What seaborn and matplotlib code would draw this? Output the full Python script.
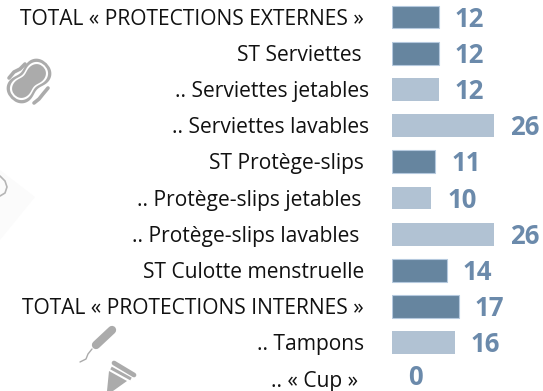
import numpy as np
import matplotlib
matplotlib.use("Agg")
import matplotlib.pyplot as plt
from matplotlib.transforms import ScaledTranslation
from matplotlib.patches import Polygon
import pandas as pd
import seaborn as sns

labels = ["TOTAL « PROTECTIONS EXTERNES »", "ST Serviettes", ".. Serviettes jetables",
          ".. Serviettes lavables", "ST Protège-slips", ".. Protège-slips jetables",
          ".. Protège-slips lavables", "ST Culotte menstruelle",
          "TOTAL « PROTECTIONS INTERNES »", ".. Tampons", ".. « Cup »"]
values = [12, 12, 12, 26, 11, 10, 26, 14, 17, 16, 0]
levels = ["total", "total", "detail", "detail", "total", "detail", "detail",
          "total", "total", "detail", "detail"]
label_shift_px = [-28, -30, -23, -23, -28, -31, -33, -28, -28, -28, -34]

DARK, LIGHT, TEXT = "#66859F", "#B1C2D3", "#6B8AAB"

sns.set_theme(style="white")
plt.rcParams["font.family"] = ["Open Sans", "DejaVu Sans"]
fig = plt.figure(figsize=(5.43, 3.91), dpi=100)
W, H = 543, 391
ax = fig.add_axes([392 / W, 0, 1 - 392 / W, 1])
df = pd.DataFrame({"label": labels, "value": values, "level": levels})
sns.barplot(data=df, y="label", x="value", hue="level", dodge=False, legend=False,
            palette={"total": DARK, "detail": LIGHT}, width=0.627, saturation=1, ax=ax)
for c, lev in zip(ax.containers, pd.unique(df["level"])):
    for r in c:
        r.set_linewidth(0.8 if lev == "total" else 0)
        r.set_edgecolor("#B5C9DE")
    for txt in ax.bar_label(c, padding=12, color=TEXT, fontsize=18.5, fontweight="bold"):
        x0, y0 = txt.xyann
        # the last row sits against the bottom edge, so it stays fully inside
        txt.xyann = (x0 - 0.5, y0 - (1.5 if txt.get_text() != "0" else -1.0))
ax.set_xlim(0, 151 / 3.92)
ax.set_ylim(10.33, -0.47)
ax.set_xlabel(""); ax.set_ylabel("")
ax.set_xticks([])
sns.despine(ax=ax, left=True, bottom=True)
ax.tick_params(axis="y", length=0, pad=0, labelsize=15.1, labelcolor="#111111")
for t, s in zip(ax.get_yticklabels(), label_shift_px):
    t.set_transform(t.get_transform() + ScaledTranslation(s / 100, 0.005, fig.dpi_scale_trans))

# decorative icons, pixel space
ov = fig.add_axes([0, 0, 1, 1], zorder=-1)
ov.set_xlim(0, W); ov.set_ylim(H, 0); ov.axis("off")
G = "#ABABAB"

def peanut(cx, cy, L, a, waist, **kw):
    u = L * np.linspace(-1, 1, 80)
    h = a * (1 - (u / L) ** 4) ** 0.5 * (1 - waist * np.exp(-(u / (0.35 * L)) ** 2))
    uu = np.r_[u, u[::-1]]
    vv = np.r_[h, -h[::-1]]
    d = np.array([1, -1]) / np.sqrt(2); n = np.array([1, 1]) / np.sqrt(2)
    pts = np.c_[cx + uu * d[0] + vv * n[0], cy + uu * d[1] + vv * n[1]]
    ov.add_patch(Polygon(pts, closed=True, lw=0, **kw))

ov.add_patch(Polygon([[0, 170], [35, 197], [0, 240]], color="#FBFBFB", lw=0))
ov.plot([0, 5, 7, 5, 0], [176, 181, 187, 193, 196], color="#B5B5B5", lw=1.2)
peanut(29, 81, 25, 15, 0.22, color=G)
peanut(29, 81, 22, 12, 0.24, color="white")
peanut(29, 81, 20, 10, 0.26, color=G)
ov.plot([9, 14, 20, 25], [78, 72, 69, 64], color=G, lw=2.6, solid_capstyle="round")
ov.plot([34, 39, 43, 48], [103, 99, 94, 88], color=G, lw=2.6, solid_capstyle="round")
ov.plot([96, 112], [345, 330], color=G, lw=6, solid_capstyle="round")
ov.plot([92, 88, 86, 80], [349, 354, 359, 362], color=G, lw=1)
ov.add_patch(Polygon([[109, 371], [127, 381], [113, 391], [107, 391]], color=G, lw=0))
ov.plot([114, 134], [363, 375], color=G, lw=3.4, solid_capstyle="round")
ov.plot([111, 131], [368, 379], color=G, lw=2.2, solid_capstyle="butt")
fig.savefig("out.png", dpi=100)
